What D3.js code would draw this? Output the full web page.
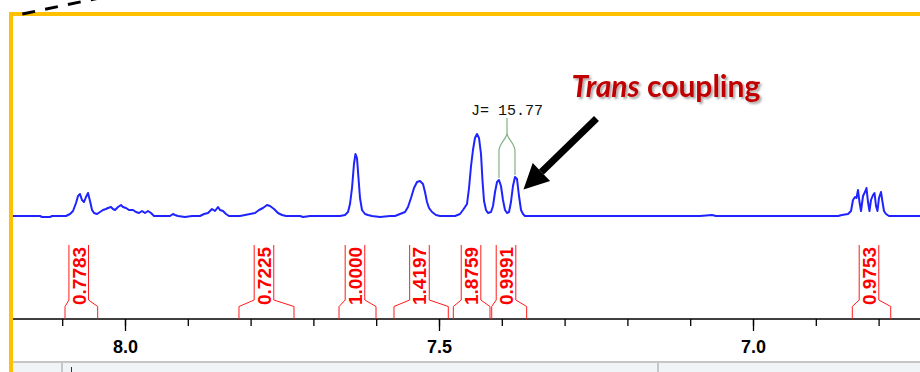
<!DOCTYPE html>
<html>
<head>
<meta charset="utf-8">
<script src="https://cdn.jsdelivr.net/npm/d3@7"></script>
<style>
  html, body { margin: 0; padding: 0; background: #fff; }
  svg { display: block; }
</style>
</head>
<body>
<div class="spectrum-canvas"></div>
<script>
// 1H NMR trace (ppm, intensity above baseline)
const shiftPpm = [
  8.1783, 8.1354, 8.1322, 8.1194, 8.1162, 8.0939, 8.0876, 8.0828, 8.0780, 8.0748,
  8.0717, 8.0685, 8.0653, 8.0621, 8.0589, 8.0557, 8.0525, 8.0494, 8.0446, 8.0398,
  8.0350, 8.0303, 8.0271, 8.0223, 8.0191, 8.0159, 8.0111, 8.0064, 8.0032, 7.9984,
  7.9936, 7.9873, 7.9825, 7.9777, 7.9729, 7.9682, 7.9634, 7.9586, 7.9538, 7.9283,
  7.9236, 7.9204, 7.9156, 7.9045, 7.8933, 7.8806, 7.8742, 7.8678, 7.8615, 7.8567,
  7.8519, 7.8487, 7.8439, 7.8392, 7.8344, 7.8169, 7.8089, 7.8010, 7.7930, 7.7866,
  7.7803, 7.7739, 7.7691, 7.7627, 7.7564, 7.7500, 7.7436, 7.7213, 7.7166, 7.7054,
  7.6576, 7.6497, 7.6449, 7.6417, 7.6385, 7.6354, 7.6330, 7.6306, 7.6282, 7.6258,
  7.6226, 7.6178, 7.6131, 7.6067, 7.5939, 7.5780, 7.5701, 7.5621, 7.5541, 7.5494,
  7.5446, 7.5398, 7.5350, 7.5303, 7.5255, 7.5223, 7.5191, 7.5159, 7.5111, 7.5048,
  7.4984, 7.4745, 7.4666, 7.4618, 7.4586, 7.4554, 7.4522, 7.4490, 7.4459, 7.4427,
  7.4395, 7.4363, 7.4331, 7.4307, 7.4283, 7.4252, 7.4220, 7.4172, 7.4140, 7.4108,
  7.4076, 7.4045, 7.4013, 7.3981, 7.3949, 7.3917, 7.3885, 7.3854, 7.3822, 7.3790,
  7.3758, 7.3726, 7.3694, 7.3662, 7.3631, 7.3551, 7.2436, 7.0844, 7.0653, 7.0589,
  6.9252, 6.8646, 6.8583, 6.8487, 6.8439, 6.8408, 6.8376, 6.8352, 6.8328, 6.8304,
  6.8280, 6.8248, 6.8217, 6.8193, 6.8169, 6.8145, 6.8121, 6.8089, 6.8065, 6.8041,
  6.8018, 6.7994, 6.7962, 6.7938, 6.7914, 6.7882, 6.7834, 6.7341
];
const intensity = [
  0, 0, -1, -1, 0, 0, 2, 5, 13, 20,
  22, 16, 14, 19, 23, 15, 6, 3, 2, 4,
  6, 7, 8, 9, 7, 6, 9, 11, 9, 8,
  6, 6, 4, 3, 5, 3, 5, 3, 0, 0,
  2, 1, 0, -1, 0, 0, 2, 3, 7, 5,
  9, 6, 5, 2, 0, 0, 1, 2, 3, 6,
  8, 11, 10, 7, 3, 1, 0, 0, -1, 0,
  0, 1, 4, 12, 28, 52, 62, 58, 38, 18,
  6, 2, 1, 0, -1, 0, 0, 2, 4, 9,
  18, 28, 34, 35, 32, 24, 14, 8, 4, 1,
  0, 0, 2, 6, 9, 12, 28, 50, 66, 78,
  82, 78, 62, 35, 15, 6, 3, 4, 10, 24,
  34, 36, 30, 16, 6, 3, 4, 14, 30, 39,
  37, 20, 6, 2, 0, 0, 0, 0, 1, 0,
  0, 0, 1, 2, 5, 16, 19, 18, 26, 14,
  5, 20, 24, 28, 14, 5, 16, 21, 23, 10,
  5, 18, 24, 14, 5, 2, 0, 0
];

const tickPpm = [8.1, 8.0, 7.9, 7.8, 7.7, 7.6, 7.5, 7.4, 7.3, 7.2, 7.1, 7.0, 6.9, 6.8];
const labelPpm = [8.0, 7.5, 7.0];

const integralValues = ["0.7783", "0.7225", "1.0000", "1.4197", "1.8759", "0.9991", "0.9753"];
const integralFrom = [8.0955, 7.8185, 7.6592, 7.5717, 7.4772, 7.4161, 6.8419];
const integralTo = [8.0435, 7.7309, 7.6003, 7.4852, 7.4188, 7.3604, 6.7807];
const integralLabelAt = [8.0737, 7.7787, 7.6338, 7.5311, 7.4490, 7.3933, 6.8153];

const couplingPeaks = [7.4045, 7.3790];
const couplingText = "J= 15.77";
const calloutWords = ["Trans", " coupling"];

function drawSpectrum() {
  let width = 920,
    height = 372,
    axisY = 319;

  let xScale = d3.scaleLinear().domain([8.0, 7.0]).range([125, 753]);
  let yScale = d3.scaleLinear().domain([0, 100]).range([216, 116]);

  let svg = d3
    .select(".spectrum-canvas")
    .append("svg")
    .attr("width", width)
    .attr("height", height);

  let defs = svg.append("defs");
  defs
    .append("filter")
    .attr("id", "soft-shadow")
    .attr("x", "-5%")
    .attr("y", "-20%")
    .attr("width", "115%")
    .attr("height", "160%")
    .append("feDropShadow")
    .attr("dx", 2)
    .attr("dy", 2)
    .attr("stdDeviation", 1.2)
    .attr("flood-color", "#000")
    .attr("flood-opacity", 0.35);

  // bottom status strip
  svg
    .append("rect")
    .attr("x", 13)
    .attr("y", 362)
    .attr("width", width - 13)
    .attr("height", 10)
    .attr("fill", "#f1f4f7");
  svg
    .append("line")
    .attr("x1", 13)
    .attr("x2", width)
    .attr("y1", 362)
    .attr("y2", 362)
    .attr("stroke", "#c6c6c6")
    .attr("stroke-width", 2);
  svg
    .selectAll(".strip-divider")
    .data([62, 658])
    .enter()
    .append("line")
    .attr("class", "strip-divider")
    .attr("x1", (d) => d)
    .attr("x2", (d) => d)
    .attr("y1", 363)
    .attr("y2", height)
    .attr("stroke", "#9a9a9a");
  svg
    .append("line")
    .attr("x1", 71.5)
    .attr("x2", 71.5)
    .attr("y1", 367)
    .attr("y2", height)
    .attr("stroke", "#333");

  // spectrum
  let points = shiftPpm.map((d, i) => [d, intensity[i]]);
  let line = d3
    .line()
    .x((d) => xScale(d[0]))
    .y((d) => yScale(d[1]));
  svg
    .append("path")
    .datum(points)
    .attr("d", line)
    .attr("fill", "none")
    .attr("stroke", "#1f24ff")
    .attr("stroke-width", 2)
    .attr("stroke-linejoin", "round");

  // axis
  svg
    .append("line")
    .attr("x1", 13)
    .attr("x2", width)
    .attr("y1", axisY)
    .attr("y2", axisY)
    .attr("stroke", "#000")
    .attr("stroke-width", 1.3);

  let minorAxis = d3.axisBottom(xScale).tickValues(tickPpm).tickSize(7).tickSizeOuter(0).tickFormat("");
  let majorAxis = d3.axisBottom(xScale).tickValues(labelPpm).tickSize(12).tickSizeOuter(0).tickFormat(d3.format(".1f"));

  [minorAxis, majorAxis].forEach((axis) => {
    let g = svg
      .append("g")
      .attr("transform", "translate(0," + axisY + ")")
      .call(axis);
    g.select(".domain").remove();
    g.selectAll("line").attr("stroke", "#000").attr("stroke-width", 1.3);
    g.selectAll("text")
      .attr("y", 21)
      .attr("fill", "#000")
      .style("font-family", "'Liberation Sans', Arial, sans-serif")
      .style("font-size", "18px")
      .style("font-weight", "bold");
  });

  // integrals
  let half = 9.8;
  let integrals = integralValues.map((v, i) => ({
    value: v,
    from: integralFrom[i],
    to: integralTo[i],
    at: integralLabelAt[i],
  }));
  let integral = svg.append("g").selectAll("g").data(integrals).enter().append("g");
  integral
    .append("path")
    .attr("d", (d) => {
      let x0 = xScale(d.from),
        x1 = xScale(d.to),
        xl = xScale(d.at) - half,
        xr = xScale(d.at) + half;
      return (
        "M" + x0 + "," + axisY + "V306.5L" + xl + ",300V245" +
        "M" + x1 + "," + axisY + "V306.5L" + xr + ",300V245"
      );
    })
    .attr("fill", "none")
    .attr("stroke", "#ff1a1a")
    .attr("stroke-width", 1);
  integral
    .append("text")
    .attr("transform", (d) => "translate(" + xScale(d.at) + ",305) rotate(-90)")
    .attr("dy", "0.36em")
    .attr("fill", "#ff0000")
    .style("font-family", "'Liberation Sans', Arial, sans-serif")
    .style("font-size", "19px")
    .style("font-weight", "bold")
    .text((d) => d.value);

  // coupling constant marker
  let peakTop = couplingPeaks.map((p) => {
    let i = d3.minIndex(shiftPpm, (s) => Math.abs(s - p));
    return yScale(intensity[i]);
  });
  let xa = xScale(couplingPeaks[0]),
    xb = xScale(couplingPeaks[1]),
    xm = (xa + xb) / 2;
  svg
    .append("path")
    .attr(
      "d",
      "M" + xm + ",118V133" +
        "C" + xm + ",139 " + xa + ",143 " + xa + ",151V" + (peakTop[0] - 2) +
        "M" + xm + ",133" +
        "C" + xm + ",139 " + xb + ",143 " + xb + ",151V" + (peakTop[1] - 2)
    )
    .attr("fill", "none")
    .attr("stroke", "#82b282")
    .attr("stroke-width", 1.2);
  svg
    .append("text")
    .attr("x", xm)
    .attr("y", 115)
    .attr("text-anchor", "middle")
    .attr("fill", "#111")
    .style("font-family", "'Liberation Mono', 'Courier New', monospace")
    .style("font-size", "15px")
    .text(couplingText);

  // callout arrow
  let tip = [xb + 8.5, peakTop[1] + 12.5],
    tail = [tip[0] + 73, tip[1] - 71];
  let len = Math.hypot(tail[0] - tip[0], tail[1] - tip[1]),
    ux = (tail[0] - tip[0]) / len,
    uy = (tail[1] - tip[1]) / len,
    base = [tip[0] + ux * 25, tip[1] + uy * 25];
  svg
    .append("line")
    .attr("x1", base[0])
    .attr("y1", base[1])
    .attr("x2", tail[0])
    .attr("y2", tail[1])
    .attr("stroke", "#000")
    .attr("stroke-width", 7);
  svg
    .append("polygon")
    .attr(
      "points",
      [
        tip,
        [base[0] - uy * 12.5, base[1] + ux * 12.5],
        [base[0] + uy * 12.5, base[1] - ux * 12.5],
      ].join(" ")
    )
    .attr("fill", "#000");

  let callout = svg
    .append("text")
    .attr("x", 571.5)
    .attr("y", 97)
    .attr("fill", "#c00000")
    .attr("filter", "url(#soft-shadow)")
    .style("font-family", "Lato, 'Open Sans', sans-serif")
    .style("font-size", "30px")
    .style("font-weight", "bold");
  callout.append("tspan").style("font-style", "italic").text(calloutWords[0]);
  callout.append("tspan").text(calloutWords[1]);

  // slide frame
  svg
    .append("line")
    .attr("x1", 9)
    .attr("x2", width)
    .attr("y1", 14)
    .attr("y2", 14)
    .attr("stroke", "#ffc000")
    .attr("stroke-width", 4);
  svg
    .append("line")
    .attr("x1", 11)
    .attr("x2", 11)
    .attr("y1", 12)
    .attr("y2", height)
    .attr("stroke", "#ffc000")
    .attr("stroke-width", 4);
  svg
    .append("line")
    .attr("x1", 22.3)
    .attr("y1", 14)
    .attr("x2", 110)
    .attr("y2", -4.2)
    .attr("stroke", "#000")
    .attr("stroke-width", 3)
    .attr("stroke-dasharray", "13,10.3");
}

drawSpectrum();
</script>
</body>
</html>
